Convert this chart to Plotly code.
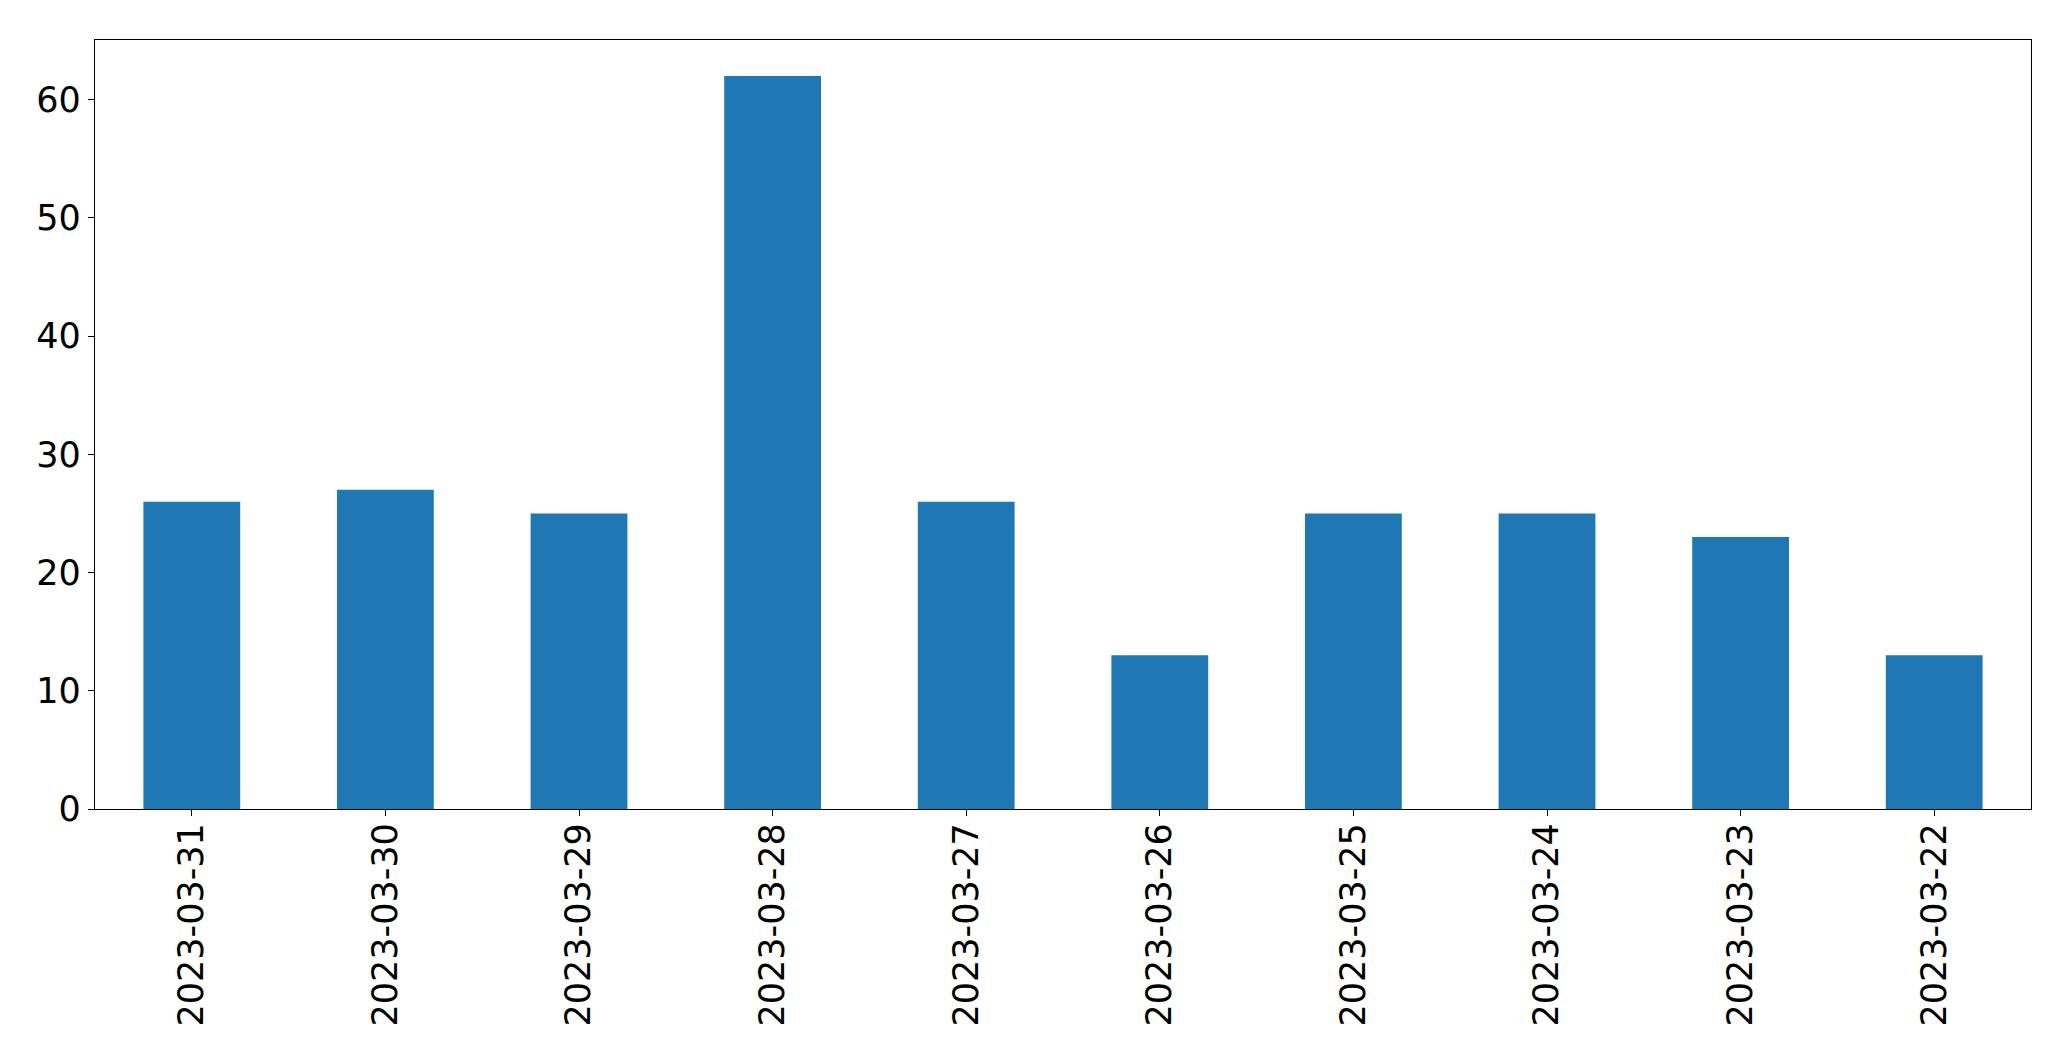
import plotly.graph_objects as go

dates = ["2023-03-31", "2023-03-30", "2023-03-29", "2023-03-28", "2023-03-27",
         "2023-03-26", "2023-03-25", "2023-03-24", "2023-03-23", "2023-03-22"]
counts = [26, 27, 25, 62, 26, 13, 25, 25, 23, 13]
y_ticks = [0, 10, 20, 30, 40, 50, 60]

fig = go.Figure(go.Bar(x=dates, y=counts, marker=dict(color="#1f77b4", line=dict(width=0)), width=0.5))

fig.update_layout(
    width=2071, height=1061,
    margin=dict(l=94.5, r=39.5, t=39.5, b=252),
    paper_bgcolor="white", plot_bgcolor="white",
    font=dict(family="DejaVu Sans", size=35, color="black"),
    showlegend=False,
)
fig.update_xaxes(
    type="category", range=[-0.5, 9.5], tickangle=-90, automargin=False,
    showline=True, linecolor="black", linewidth=1.3, mirror=True,
    ticks="outside", ticklen=6, tickcolor="black", tickwidth=1.3,
    ticklabelstandoff=-7,
    showgrid=False, zeroline=False,
)
fig.update_yaxes(
    range=[0, 65.05], tickvals=y_ticks, automargin=False,
    showline=True, linecolor="black", linewidth=1.3, mirror=True,
    ticks="outside", ticklen=6, tickcolor="black", tickwidth=1.3,
    showgrid=False, zeroline=False,
)
fig.write_html("out.html", config={"displayModeBar": False},
               post_script="document.body.style.margin='0px';")
